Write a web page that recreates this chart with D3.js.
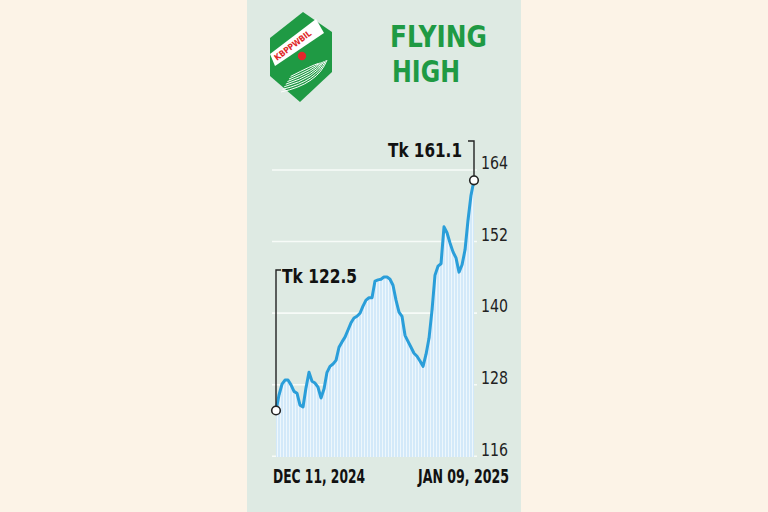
<!DOCTYPE html>
<html><head><meta charset="utf-8">
<script src="https://cdn.jsdelivr.net/npm/d3@7"></script>
<style>
html,body{margin:0;padding:0;background:#fcf3e7;}
svg{display:block;}
</style></head>
<body>
<svg id="chart" width="768" height="512"></svg>
<script>
// ---- data ----
const title = ["FLYING", "HIGH"];
const prices = [122.5,125.1,126.9,127.6,127.6,126.8,125.7,125.4,123.4,123.1,126.3,128.9,127.4,127.1,126.4,124.6,126.1,128.9,129.9,130.3,130.9,133.1,134.0,134.8,136.0,137.2,138.0,138.3,138.8,140.0,141.0,141.4,141.4,144.2,144.4,144.5,144.9,144.9,144.5,143.5,141.0,139.0,138.3,135.1,134.1,133.1,132.1,131.6,130.8,129.9,131.9,134.6,139.3,145.2,146.7,147.1,153.3,152.3,150.6,149.1,148.1,145.7,146.9,149.4,154.4,158.6,161.1];
const yTicks = [116, 128, 140, 152, 164];
const dateLabels = ["DEC 11, 2024", "JAN 09, 2025"];
const startLabel = "Tk 122.5";
const endLabel = "Tk 161.1";
const logoText = "KBPPWBIL";

// ---- layout ----
const svg = d3.select("#chart");
const condensed = "'Liberation Sans Narrow','DejaVu Sans Condensed','Roboto Condensed','Arial Narrow',sans-serif";

svg.append("rect").attr("x",0).attr("y",0).attr("width",768).attr("height",512).attr("fill","#fcf3e7");
svg.append("rect").attr("x",247).attr("y",0).attr("width",274).attr("height",512).attr("fill","#deeae3");

const x = d3.scaleLinear().domain([0, prices.length-1]).range([276, 474]);
const y = d3.scaleLinear().domain([114.7, 164]).range([457, 163]);

// gridlines (drawn slightly below tick label centres as in the original)
svg.append("g").selectAll("line").data(yTicks).join("line")
  .attr("x1",272).attr("x2",477)
  .attr("y1",d=>y(d)+7).attr("y2",d=>y(d)+7)
  .attr("stroke","#f7fbf8").attr("stroke-width",1.6);

// area
const area = d3.area().x((d,i)=>x(i)).y0(y(114.7)).y1(d=>y(d)).curve(d3.curveLinear);
svg.append("clipPath").attr("id","areaClip").append("path").attr("d", area(prices));
svg.append("path").attr("d", area(prices)).attr("fill","#d3e9f9");
// stripes (one per data point)
svg.append("g").attr("clip-path","url(#areaClip)").selectAll("line").data(prices).join("line")
  .attr("x1",(d,i)=>x(i)+1.5).attr("x2",(d,i)=>x(i)+1.5)
  .attr("y1",d=>y(d)).attr("y2",y(114.7))
  .attr("stroke","#f2f9fd").attr("stroke-width",1).attr("opacity",0.85);

// line
const line = d3.line().x((d,i)=>x(i)).y(d=>y(d));
svg.append("path").attr("d", line(prices)).attr("fill","none")
  .attr("stroke","#2a9ed9").attr("stroke-width",3).attr("stroke-linejoin","round").attr("stroke-linecap","round");

// y tick labels
svg.append("g").selectAll("text").data(yTicks).join("text")
  .attr("x",481).attr("y",d=>y(d)).attr("dy","0.35em")
  .attr("font-family",condensed).attr("font-size",18).attr("fill","#222")
  .attr("textLength",27).attr("lengthAdjust","spacingAndGlyphs")
  .text(d=>d);

// annotations
const i0 = 0, i1 = prices.length-1;
svg.append("path").attr("d",`M${x(i0)+5},${270}H${x(i0)}V${y(prices[i0])}`)
  .attr("fill","none").attr("stroke","#222").attr("stroke-width",1.4);
svg.append("path").attr("d",`M${x(i1)-6},${141}H${x(i1)}V${y(prices[i1])}`)
  .attr("fill","none").attr("stroke","#222").attr("stroke-width",1.4);
[i0,i1].forEach(i=>{
  svg.append("circle").attr("cx",x(i)).attr("cy",y(prices[i])).attr("r",4.3)
    .attr("fill","#fff").attr("stroke","#222").attr("stroke-width",1.6);
});
svg.append("text").attr("x",282).attr("y",283).attr("font-family",condensed).attr("font-weight","bold")
  .attr("font-size",19).attr("fill","#111").attr("textLength",75).attr("lengthAdjust","spacingAndGlyphs").text(startLabel);
svg.append("text").attr("x",388).attr("y",157).attr("font-family",condensed).attr("font-weight","bold")
  .attr("font-size",19).attr("fill","#111").attr("textLength",74).attr("lengthAdjust","spacingAndGlyphs").text(endLabel);

// date labels
svg.append("text").attr("x",273).attr("y",483).attr("font-family",condensed).attr("font-weight","bold")
  .attr("font-size",19).attr("fill","#111").attr("textLength",92).attr("lengthAdjust","spacingAndGlyphs").text(dateLabels[0]);
svg.append("text").attr("x",418).attr("y",483).attr("font-family",condensed).attr("font-weight","bold")
  .attr("font-size",19).attr("fill","#111").attr("textLength",91).attr("lengthAdjust","spacingAndGlyphs").text(dateLabels[1]);

// title
svg.append("text").attr("x",390).attr("y",47).attr("font-family",condensed).attr("font-weight","bold")
  .attr("font-size",31).attr("fill","#1f9a44").attr("textLength",97).attr("lengthAdjust","spacingAndGlyphs").text(title[0]);
svg.append("text").attr("x",392).attr("y",82).attr("font-family",condensed).attr("font-weight","bold")
  .attr("font-size",31).attr("fill","#1f9a44").attr("textLength",68).attr("lengthAdjust","spacingAndGlyphs").text(title[1]);

// logo
const logo = svg.append("g");
logo.append("path").attr("d","M303,12 L332,32 L332,72 L300,102 L270,76 L270,38 Z").attr("fill","#1f9a44");
logo.append("path").attr("d","M270,54 L316,19 L324,33 L275,66 Z").attr("fill","#fff");
logo.append("text").attr("transform","translate(277,61) rotate(-37)")
  .attr("font-family","'DejaVu Sans Condensed','Liberation Sans Narrow',sans-serif").attr("font-weight","bold")
  .attr("font-size",8.5).attr("fill","#e02a2a").attr("textLength",44).attr("lengthAdjust","spacingAndGlyphs").text(logoText);
[0,1,2,3,4,5,6].forEach(k=>{
  logo.append("path").attr("d",`M${281+k*1.6},${92-k*2.6} Q${318-k*0.8},${84-k*3.2} ${327-k*1.5},${60+k*0.6}`)
    .attr("fill","none").attr("stroke","#fff").attr("stroke-width",1);
});
logo.append("circle").attr("cx",302).attr("cy",56).attr("r",4.2).attr("fill","#e3262b");
</script>
</body></html>
